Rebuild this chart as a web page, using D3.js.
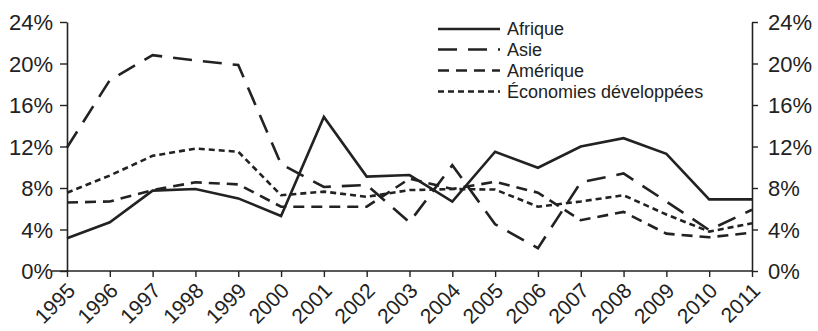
<!DOCTYPE html>
<html>
<head>
<meta charset="utf-8">
<script src="https://cdn.jsdelivr.net/npm/d3@7/dist/d3.min.js"></script>
<style>
  html, body { margin: 0; padding: 0; background: #fff; }
  svg { display: block; font-family: "Liberation Sans", Arial, sans-serif; }
</style>
</head>
<body>
<svg id="chart" width="818" height="331"></svg>
<script>
const years = ["1995","1996","1997","1998","1999","2000","2001","2002","2003","2004","2005","2006","2007","2008","2009","2010","2011"];
const afrique   = [3.15, 4.7, 7.75, 7.9, 7.0, 5.3, 14.85, 9.1, 9.25, 6.7, 11.5, 9.95, 12.0, 12.8, 11.3, 6.9, 6.9];
const asie      = [11.9, 18.4, 20.8, 20.3, 19.85, 10.3, 8.1, 8.3, 4.7, 10.2, 4.5, 2.2, 8.55, 9.4, 6.7, 3.95, 5.9];
const amerique  = [6.6, 6.7, 7.8, 8.55, 8.35, 6.2, 6.2, 6.2, 8.9, 7.9, 8.6, 7.55, 4.9, 5.7, 3.6, 3.25, 3.7];
const economies = [7.55, 9.2, 11.1, 11.8, 11.5, 7.3, 7.65, 7.15, 7.8, 7.9, 7.85, 6.2, 6.7, 7.3, 5.45, 3.8, 4.6];
const seriesNames = ["Afrique", "Asie", "Amérique", "Économies développées"];
const yTicks = [0, 4, 8, 12, 16, 20, 24];

const series = [
  { name: seriesNames[0], values: afrique,   dash: null },
  { name: seriesNames[1], values: asie,      dash: "19,11" },
  { name: seriesNames[2], values: amerique,  dash: "11,7" },
  { name: seriesNames[3], values: economies, dash: "6,4" }
];

const svg = d3.select("#chart");
const mLeft = 67, mRight = 752, mTop = 22, mBottom = 271;
const ink = "#222";

const x = d3.scalePoint().domain(years).range([mLeft, mRight]);
const y = d3.scaleLinear().domain([0, 24]).range([mBottom, mTop]);

// Left axis
const gL = svg.append("g").attr("transform", `translate(${mLeft},0)`)
  .call(d3.axisLeft(y).tickValues(yTicks).tickFormat(d => d + "%").tickSize(7).tickPadding(7).tickSizeOuter(0));
// Right axis
const gR = svg.append("g").attr("transform", `translate(${mRight},0)`)
  .call(d3.axisRight(y).tickValues(yTicks).tickFormat(d => d + "%").tickSize(6).tickPadding(10).tickSizeOuter(0));
// Bottom axis
const gB = svg.append("g").attr("transform", `translate(0,${mBottom})`)
  .call(d3.axisBottom(x).tickSize(6).tickSizeOuter(0));
gB.selectAll("text")
  .attr("text-anchor", "end")
  .attr("x", 0).attr("y", 0).attr("dy", 0)
  .attr("transform", "translate(9,21) rotate(-45)");

[gL, gR, gB].forEach(g => {
  g.selectAll("path.domain").attr("stroke", ink).attr("stroke-width", 1.6);
  g.selectAll(".tick line").attr("stroke", ink).attr("stroke-width", 1.4);
  g.selectAll("text").attr("fill", ink).style("font-size", "22px")
    .style("font-family", '"Liberation Sans", Arial, sans-serif');
});
gL.selectAll("text").attr("dy", "0.35em");
gR.selectAll("text").attr("dy", "0.35em");
gB.selectAll("text").style("font-size", "21px");
// extend baseline to the left under 0%
gB.select("path.domain").attr("d", `M52,0H${mRight}`);

const line = d3.line().x((d, i) => x(years[i])).y(d => y(d));

svg.append("g").selectAll("path").data(series).join("path")
  .attr("d", d => line(d.values))
  .attr("fill", "none")
  .attr("stroke", ink)
  .attr("stroke-width", 2.6)
  .attr("stroke-linejoin", "miter")
  .attr("stroke-dasharray", d => d.dash);

// Legend
const legY = [29, 49.5, 70.5, 91.5];
const lg = svg.append("g");
series.forEach((s, i) => {
  lg.append("line")
    .attr("x1", 438).attr("x2", 500)
    .attr("y1", legY[i]).attr("y2", legY[i])
    .attr("stroke", ink).attr("stroke-width", 2.6)
    .attr("stroke-dasharray", s.dash);
  lg.append("text")
    .attr("x", 507).attr("y", legY[i]).attr("dy", "0.35em")
    .attr("fill", ink).style("font-size", "18px")
    .text(s.name);
});
</script>
</body>
</html>
